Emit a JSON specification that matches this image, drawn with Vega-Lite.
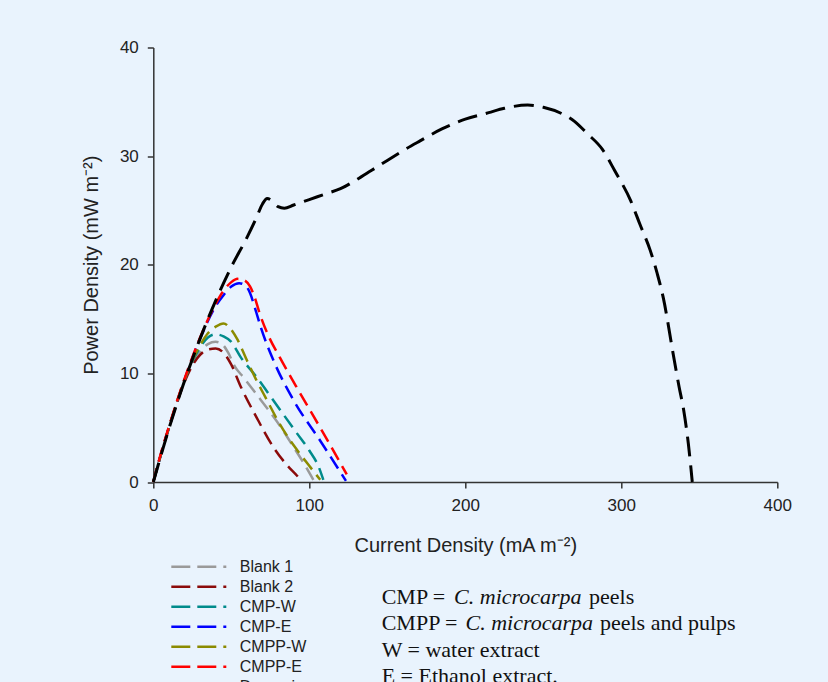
{
  "$schema": "https://vega.github.io/schema/vega-lite/v6.json",
  "width": 624,
  "height": 434.5,
  "autosize": {"type": "none"},
  "padding": {"left": 153.3, "top": 47.5, "right": 50.7, "bottom": 200},
  "background": "#e9f3fd",
  "config": {
    "view": {"stroke": null},
    "font": "Liberation Sans",
    "axis": {
      "domainColor": "#333333",
      "domainWidth": 1.5,
      "tickColor": "#333333",
      "tickWidth": 1.5,
      "tickSize": 6,
      "grid": false,
      "labelFlush": false,
      "labelOverlap": false,
      "labelFont": "Liberation Sans",
      "labelFontSize": 17,
      "labelColor": "#222222",
      "titleFont": "Liberation Sans",
      "titleFontSize": 20,
      "titleFontWeight": "normal",
      "titleColor": "#222222"
    },
    "legend": {
      "orient": "none",
      "legendX": 16.5,
      "legendY": 509.5,
      "symbolType": "stroke",
      "symbolSize": 3025,
      "symbolStrokeWidth": 2.5,
      "symbolDash": [19, 7],
      "labelFont": "Liberation Sans",
      "labelFontSize": 16,
      "labelColor": "#222222",
      "clipHeight": 19.5,
      "rowPadding": 0,
      "labelOffset": 12,
      "padding": 0
    }
  },
  "datasets": {
    "curves": [
      {"series": "Blank 1", "x": 0, "y": 0},
      {"series": "Blank 1", "x": 5, "y": 2.6},
      {"series": "Blank 1", "x": 10, "y": 5.0},
      {"series": "Blank 1", "x": 15, "y": 7.2},
      {"series": "Blank 1", "x": 20, "y": 9.3},
      {"series": "Blank 1", "x": 25, "y": 10.9},
      {"series": "Blank 1", "x": 30, "y": 12.0},
      {"series": "Blank 1", "x": 35, "y": 12.7},
      {"series": "Blank 1", "x": 40, "y": 12.9},
      {"series": "Blank 1", "x": 44, "y": 12.7},
      {"series": "Blank 1", "x": 48, "y": 11.9},
      {"series": "Blank 1", "x": 52, "y": 10.7},
      {"series": "Blank 1", "x": 58, "y": 9.6},
      {"series": "Blank 1", "x": 66, "y": 8.1},
      {"series": "Blank 1", "x": 74, "y": 6.6},
      {"series": "Blank 1", "x": 82, "y": 5.0},
      {"series": "Blank 1", "x": 90, "y": 3.2},
      {"series": "Blank 1", "x": 97, "y": 1.6},
      {"series": "Blank 1", "x": 103, "y": 0.1},

      {"series": "Blank 2", "x": 0, "y": 0},
      {"series": "Blank 2", "x": 5, "y": 2.6},
      {"series": "Blank 2", "x": 10, "y": 5.0},
      {"series": "Blank 2", "x": 15, "y": 7.2},
      {"series": "Blank 2", "x": 20, "y": 9.2},
      {"series": "Blank 2", "x": 25, "y": 10.7},
      {"series": "Blank 2", "x": 30, "y": 11.7},
      {"series": "Blank 2", "x": 35, "y": 12.2},
      {"series": "Blank 2", "x": 40, "y": 12.3},
      {"series": "Blank 2", "x": 45, "y": 11.9},
      {"series": "Blank 2", "x": 50, "y": 10.8},
      {"series": "Blank 2", "x": 56, "y": 8.8},
      {"series": "Blank 2", "x": 66, "y": 6.0},
      {"series": "Blank 2", "x": 77, "y": 3.2},
      {"series": "Blank 2", "x": 86, "y": 1.5},
      {"series": "Blank 2", "x": 92, "y": 0.6},
      {"series": "Blank 2", "x": 95, "y": 0.1},

      {"series": "CMP-W", "x": 0, "y": 0},
      {"series": "CMP-W", "x": 5, "y": 2.6},
      {"series": "CMP-W", "x": 10, "y": 5.0},
      {"series": "CMP-W", "x": 15, "y": 7.3},
      {"series": "CMP-W", "x": 20, "y": 9.4},
      {"series": "CMP-W", "x": 25, "y": 11.1},
      {"series": "CMP-W", "x": 30, "y": 12.4},
      {"series": "CMP-W", "x": 35, "y": 13.3},
      {"series": "CMP-W", "x": 40, "y": 13.6},
      {"series": "CMP-W", "x": 45, "y": 13.4},
      {"series": "CMP-W", "x": 50, "y": 12.9},
      {"series": "CMP-W", "x": 56, "y": 11.5},
      {"series": "CMP-W", "x": 66, "y": 9.7},
      {"series": "CMP-W", "x": 77, "y": 7.5},
      {"series": "CMP-W", "x": 92, "y": 4.5},
      {"series": "CMP-W", "x": 100, "y": 2.9},
      {"series": "CMP-W", "x": 106, "y": 1.4},
      {"series": "CMP-W", "x": 109, "y": 0.2},

      {"series": "CMP-E", "x": 0, "y": 0},
      {"series": "CMP-E", "x": 5, "y": 2.6},
      {"series": "CMP-E", "x": 10, "y": 5.0},
      {"series": "CMP-E", "x": 20, "y": 9.4},
      {"series": "CMP-E", "x": 30, "y": 13.2},
      {"series": "CMP-E", "x": 40, "y": 16.2},
      {"series": "CMP-E", "x": 45, "y": 17.2},
      {"series": "CMP-E", "x": 50, "y": 18.0},
      {"series": "CMP-E", "x": 55, "y": 18.3},
      {"series": "CMP-E", "x": 59, "y": 18.1},
      {"series": "CMP-E", "x": 62, "y": 17.4},
      {"series": "CMP-E", "x": 65, "y": 16.1},
      {"series": "CMP-E", "x": 69, "y": 14.2},
      {"series": "CMP-E", "x": 77, "y": 11.2},
      {"series": "CMP-E", "x": 90, "y": 7.5},
      {"series": "CMP-E", "x": 107, "y": 3.8},
      {"series": "CMP-E", "x": 123.5, "y": 0.1},

      {"series": "CMPP-W", "x": 0, "y": 0},
      {"series": "CMPP-W", "x": 5, "y": 2.6},
      {"series": "CMPP-W", "x": 10, "y": 5.0},
      {"series": "CMPP-W", "x": 15, "y": 7.3},
      {"series": "CMPP-W", "x": 20, "y": 9.4},
      {"series": "CMPP-W", "x": 25, "y": 11.2},
      {"series": "CMPP-W", "x": 30, "y": 12.6},
      {"series": "CMPP-W", "x": 35, "y": 13.7},
      {"series": "CMPP-W", "x": 40, "y": 14.3},
      {"series": "CMPP-W", "x": 45, "y": 14.6},
      {"series": "CMPP-W", "x": 49, "y": 14.2},
      {"series": "CMPP-W", "x": 54, "y": 13.1},
      {"series": "CMPP-W", "x": 60, "y": 11.2},
      {"series": "CMPP-W", "x": 66, "y": 9.4},
      {"series": "CMPP-W", "x": 73, "y": 7.5},
      {"series": "CMPP-W", "x": 80, "y": 5.6},
      {"series": "CMPP-W", "x": 86, "y": 4.2},
      {"series": "CMPP-W", "x": 94, "y": 2.6},
      {"series": "CMPP-W", "x": 101, "y": 1.3},
      {"series": "CMPP-W", "x": 107, "y": 0.2},

      {"series": "CMPP-E", "x": 0, "y": 0},
      {"series": "CMPP-E", "x": 5, "y": 2.7},
      {"series": "CMPP-E", "x": 10, "y": 5.1},
      {"series": "CMPP-E", "x": 20, "y": 9.5},
      {"series": "CMPP-E", "x": 30, "y": 13.3},
      {"series": "CMPP-E", "x": 40, "y": 16.4},
      {"series": "CMPP-E", "x": 45, "y": 17.6},
      {"series": "CMPP-E", "x": 50, "y": 18.4},
      {"series": "CMPP-E", "x": 54, "y": 18.7},
      {"series": "CMPP-E", "x": 58, "y": 18.6},
      {"series": "CMPP-E", "x": 62, "y": 18.0},
      {"series": "CMPP-E", "x": 65, "y": 17.0},
      {"series": "CMPP-E", "x": 68, "y": 15.6},
      {"series": "CMPP-E", "x": 74, "y": 13.4},
      {"series": "CMPP-E", "x": 81, "y": 11.5},
      {"series": "CMPP-E", "x": 94, "y": 8.2},
      {"series": "CMPP-E", "x": 109, "y": 4.5},
      {"series": "CMPP-E", "x": 124, "y": 0.7},

      {"series": "Dopamine", "x": 0, "y": 0},
      {"series": "Dopamine", "x": 10, "y": 4.9},
      {"series": "Dopamine", "x": 20, "y": 9.3},
      {"series": "Dopamine", "x": 30, "y": 13.2},
      {"series": "Dopamine", "x": 40, "y": 16.7},
      {"series": "Dopamine", "x": 50, "y": 19.8},
      {"series": "Dopamine", "x": 60, "y": 22.5},
      {"series": "Dopamine", "x": 66, "y": 24.3},
      {"series": "Dopamine", "x": 70, "y": 25.6},
      {"series": "Dopamine", "x": 73, "y": 26.1},
      {"series": "Dopamine", "x": 76, "y": 25.9},
      {"series": "Dopamine", "x": 80, "y": 25.35},
      {"series": "Dopamine", "x": 84, "y": 25.2},
      {"series": "Dopamine", "x": 90, "y": 25.5},
      {"series": "Dopamine", "x": 100, "y": 26.0},
      {"series": "Dopamine", "x": 110, "y": 26.5},
      {"series": "Dopamine", "x": 120, "y": 27.0},
      {"series": "Dopamine", "x": 130, "y": 27.8},
      {"series": "Dopamine", "x": 140, "y": 28.7},
      {"series": "Dopamine", "x": 150, "y": 29.6},
      {"series": "Dopamine", "x": 160, "y": 30.5},
      {"series": "Dopamine", "x": 171, "y": 31.4},
      {"series": "Dopamine", "x": 185, "y": 32.5},
      {"series": "Dopamine", "x": 200, "y": 33.4},
      {"series": "Dopamine", "x": 215, "y": 34.0},
      {"series": "Dopamine", "x": 225, "y": 34.4},
      {"series": "Dopamine", "x": 240, "y": 34.7},
      {"series": "Dopamine", "x": 250, "y": 34.5},
      {"series": "Dopamine", "x": 262, "y": 33.9},
      {"series": "Dopamine", "x": 270, "y": 33.2},
      {"series": "Dopamine", "x": 278, "y": 32.1},
      {"series": "Dopamine", "x": 288, "y": 30.6},
      {"series": "Dopamine", "x": 296, "y": 28.6},
      {"series": "Dopamine", "x": 306, "y": 25.9},
      {"series": "Dopamine", "x": 312, "y": 23.7},
      {"series": "Dopamine", "x": 318.6, "y": 21.3},
      {"series": "Dopamine", "x": 323, "y": 19.2},
      {"series": "Dopamine", "x": 327, "y": 16.9},
      {"series": "Dopamine", "x": 333, "y": 12.0},
      {"series": "Dopamine", "x": 337, "y": 8.8},
      {"series": "Dopamine", "x": 340, "y": 6.6},
      {"series": "Dopamine", "x": 343, "y": 3.5},
      {"series": "Dopamine", "x": 345.5, "y": 0}
    ]
  },
  "layer": [
    {
      "data": {"name": "curves"},
      "transform": [{"filter": "datum.series !== 'Dopamine'"}],
      "mark": {"type": "line", "strokeDash": [14, 7], "strokeWidth": 2.5, "interpolate": "monotone"},
      "encoding": {
        "x": {
          "field": "x", "type": "quantitative",
          "scale": {"domain": [0, 400], "nice": false, "zero": false},
          "axis": {"values": [0, 100, 200, 300, 400], "title": "Current Density (mA m⁻²)", "labelPadding": 9, "titlePadding": 22}
        },
        "y": {
          "field": "y", "type": "quantitative",
          "scale": {"domain": [0, 40], "nice": false, "zero": false},
          "axis": {"values": [0, 10, 20, 30, 40], "title": "Power Density (mW  m⁻²)", "labelPadding": 9, "titlePadding": 18}
        },
        "color": {
          "field": "series", "type": "nominal",
          "scale": {
            "domain": ["Blank 1", "Blank 2", "CMP-W", "CMP-E", "CMPP-W", "CMPP-E", "Dopamine"],
            "range": ["#9a9a9a", "#8b0a0a", "#008b8b", "#0000ff", "#8b8b00", "#ff0000", "#000000"]
          },
          "legend": {"title": null}
        },
        "order": {"field": "x", "type": "quantitative"}
      }
    },
    {
      "data": {"name": "curves"},
      "transform": [{"filter": "datum.series === 'Dopamine'"}],
      "mark": {"type": "line", "strokeDash": [20, 9], "strokeWidth": 3, "interpolate": "monotone"},
      "encoding": {
        "x": {"field": "x", "type": "quantitative"},
        "y": {"field": "y", "type": "quantitative"},
        "color": {"field": "series", "type": "nominal"},
        "order": {"field": "x", "type": "quantitative"}
      }
    },
    {
      "data": {"values": [{"t": "CMP = "}]},
      "mark": {"type": "text", "font": "Liberation Serif", "fontSize": 22, "align": "left", "baseline": "alphabetic", "color": "#111111"},
      "encoding": {"x": {"datum": 146.4}, "y": {"datum": -11.23}, "text": {"field": "t"}}
    },
    {
      "data": {"values": [{"t": "C. microcarpa"}]},
      "mark": {"type": "text", "font": "Liberation Serif", "fontSize": 22, "fontStyle": "italic", "align": "left", "baseline": "alphabetic", "color": "#111111"},
      "encoding": {"x": {"datum": 192.8}, "y": {"datum": -11.23}, "text": {"field": "t"}}
    },
    {
      "data": {"values": [{"t": "peels"}]},
      "mark": {"type": "text", "font": "Liberation Serif", "fontSize": 22, "align": "left", "baseline": "alphabetic", "color": "#111111"},
      "encoding": {"x": {"datum": 279.3}, "y": {"datum": -11.23}, "text": {"field": "t"}}
    },
    {
      "data": {"values": [{"t": "CMPP = "}]},
      "mark": {"type": "text", "font": "Liberation Serif", "fontSize": 22, "align": "left", "baseline": "alphabetic", "color": "#111111"},
      "encoding": {"x": {"datum": 146.4}, "y": {"datum": -13.67}, "text": {"field": "t"}}
    },
    {
      "data": {"values": [{"t": "C. microcarpa"}]},
      "mark": {"type": "text", "font": "Liberation Serif", "fontSize": 22, "fontStyle": "italic", "align": "left", "baseline": "alphabetic", "color": "#111111"},
      "encoding": {"x": {"datum": 200.1}, "y": {"datum": -13.67}, "text": {"field": "t"}}
    },
    {
      "data": {"values": [{"t": "peels and pulps"}]},
      "mark": {"type": "text", "font": "Liberation Serif", "fontSize": 22, "align": "left", "baseline": "alphabetic", "color": "#111111"},
      "encoding": {"x": {"datum": 286.3}, "y": {"datum": -13.67}, "text": {"field": "t"}}
    },
    {
      "data": {"values": [{"t": "W = water extract"}]},
      "mark": {"type": "text", "font": "Liberation Serif", "fontSize": 22, "align": "left", "baseline": "alphabetic", "color": "#111111"},
      "encoding": {"x": {"datum": 146.4}, "y": {"datum": -16.11}, "text": {"field": "t"}}
    },
    {
      "data": {"values": [{"t": "E = Ethanol extract."}]},
      "mark": {"type": "text", "font": "Liberation Serif", "fontSize": 22, "align": "left", "baseline": "alphabetic", "color": "#111111"},
      "encoding": {"x": {"datum": 146.4}, "y": {"datum": -18.55}, "text": {"field": "t"}}
    }
  ]
}
